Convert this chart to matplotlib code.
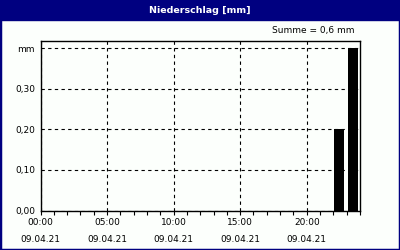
import matplotlib
matplotlib.use("Agg")
import matplotlib.pyplot as plt
from matplotlib.patches import Rectangle
from matplotlib.ticker import MultipleLocator

title = "Niederschlag [mm]"
summe = "Summe = 0,6 mm"
unit = "mm"
bar_hours = [22.42, 23.47]
bar_values = [0.20, 0.40]
xtick_pos = [0, 5, 10, 15, 20]
xtick_labels = ["00:00\n09.04.21", "05:00\n09.04.21", "10:00\n09.04.21",
                "15:00\n09.04.21", "20:00\n09.04.21"]
ytick_pos = [0.0, 0.1, 0.2, 0.3]
ytick_labels = ["0,00", "0,10", "0,20", "0,30"]

navy = "#000080"
bg = "#fcfffc"

W, H = 400, 250
plt.rcParams['font.family'] = ['DejaVu Sans']
fig = plt.figure(figsize=(4, 2.5), dpi=100, facecolor=bg)

# border and title bar
fig.patches.append(Rectangle((0, 0), 1, 1, transform=fig.transFigure, fill=False,
                             edgecolor=navy, linewidth=2.5, zorder=0))
fig.patches.append(Rectangle((0, 1 - 20 / H), 1, 20 / H, transform=fig.transFigure,
                             facecolor=navy, edgecolor=navy, zorder=1))
fig.text(0.5, 1 - 10.5 / H, title, color="white", fontweight="bold", fontsize=6.8,
         ha="center", va="center")
fig.text(355 / W, 1 - 31 / H, summe, color="black", fontsize=6.5, ha="right", va="center")

left, right, top, bottom = 40.5, 360, 41, 210.5
ax = fig.add_axes([left / W, 1 - bottom / H, (right - left) / W, (bottom - top) / H])
ax.set_facecolor(bg)
ax.bar(bar_hours, bar_values, width=0.75, color="black", zorder=3)
ax.set_xlim(0, 24)
ax.set_ylim(0, 0.4175)

ax.set_xticks(xtick_pos)
ax.set_xticklabels(xtick_labels, fontsize=6.5, linespacing=2.1)
ax.xaxis.set_minor_locator(MultipleLocator(1))
ax.set_yticks(ytick_pos + [0.4])
ax.set_yticklabels(ytick_labels + [unit], fontsize=6.5)
ax.tick_params(axis="x", which="both", direction="out", length=3, width=0.8, pad=2.5)
ax.tick_params(axis="y", which="both", length=0, pad=4)

ax.grid(True, which="major", color="black", linestyle=(0, (3, 3)), linewidth=0.8, zorder=1)
for s in ["top", "right"]:
    ax.spines[s].set_visible(False)
for s in ["left", "bottom"]:
    ax.spines[s].set_linewidth(1.0)
ax.axhline(0.4175, color="black", linewidth=1.0, clip_on=False)
ax.axvline(24, color="black", linewidth=1.0, clip_on=False)

fig.savefig("out.png", dpi=100, facecolor=bg)
